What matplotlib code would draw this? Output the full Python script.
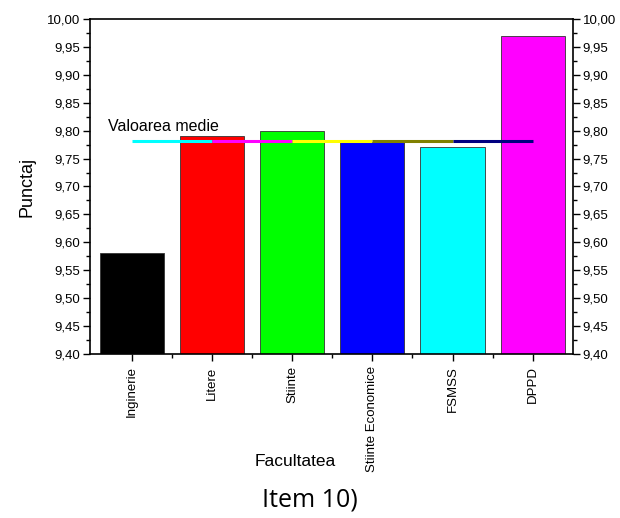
import numpy as np
import matplotlib
matplotlib.use('Agg')
import matplotlib.pyplot as plt
from matplotlib.ticker import MultipleLocator

faculties = ['Inginerie', 'Litere', 'Stiinte', 'Stiinte Economice', 'FSMSS', 'DPPD']
scores = [9.58, 9.79, 9.80, 9.78, 9.77, 9.97]
bar_colors = ['#000000', '#ff0000', '#00ff00', '#0000ff', '#00ffff', '#ff00ff']
line_colors = ['#00ffff', '#ff00ff', '#ffff00', '#808000', '#000080']

plt.rcParams['font.family'] = 'Liberation Sans'

fig = plt.figure(figsize=(6.2, 5.18), dpi=100)
ax = fig.add_axes([0.145, 0.317, 0.779, 0.646])

x = np.arange(len(faculties))
ax.bar(x, scores, width=0.8, color=bar_colors, edgecolor='#333333', linewidth=0.6, zorder=2)

# mean line, drawn as coloured segments between bar centres
mean = np.mean(scores)
for i in range(len(faculties) - 1):
    ax.plot([x[i], x[i + 1]], [mean, mean], color=line_colors[i], lw=2.2, zorder=3,
            solid_capstyle='butt')
ax.text(-0.3, mean + 0.012, 'Valoarea medie', fontsize=11.5, va='bottom', ha='left')

ax.set_xlim(-0.52, 5.5)
ax.set_ylim(9.40, 10.00)
ax.set_xticks(x)
ax.set_xticks(x[:-1] + 0.5, minor=True)
ax.set_xticklabels(faculties, rotation=90, fontsize=9.5)
ax.yaxis.set_major_locator(MultipleLocator(0.05))
ax.yaxis.set_minor_locator(MultipleLocator(0.025))
ax.yaxis.set_major_formatter(lambda v, p: f'{v:.2f}'.replace('.', ','))
ax.tick_params(axis='y', which='both', direction='out', right=True, labelright=True,
               labelsize=9.5, pad=2)
ax.tick_params(axis='x', pad=4)
ax.tick_params(axis='both', which='major', length=5, width=1)
ax.tick_params(axis='both', which='minor', length=3, width=1)
for s in ax.spines.values():
    s.set_linewidth(1.2)

ax.set_ylabel('Punctaj', fontsize=13, labelpad=8)
fig.text(295 / 620, 1 - 462 / 518, 'Facultatea', fontsize=12.5, ha='center', va='center')
fig.text(310 / 620, 1 - 500 / 518, 'Item 10)', fontsize=18, ha='center', va='center',
         family='Open Sans')

fig.savefig('out.png', dpi=100)
